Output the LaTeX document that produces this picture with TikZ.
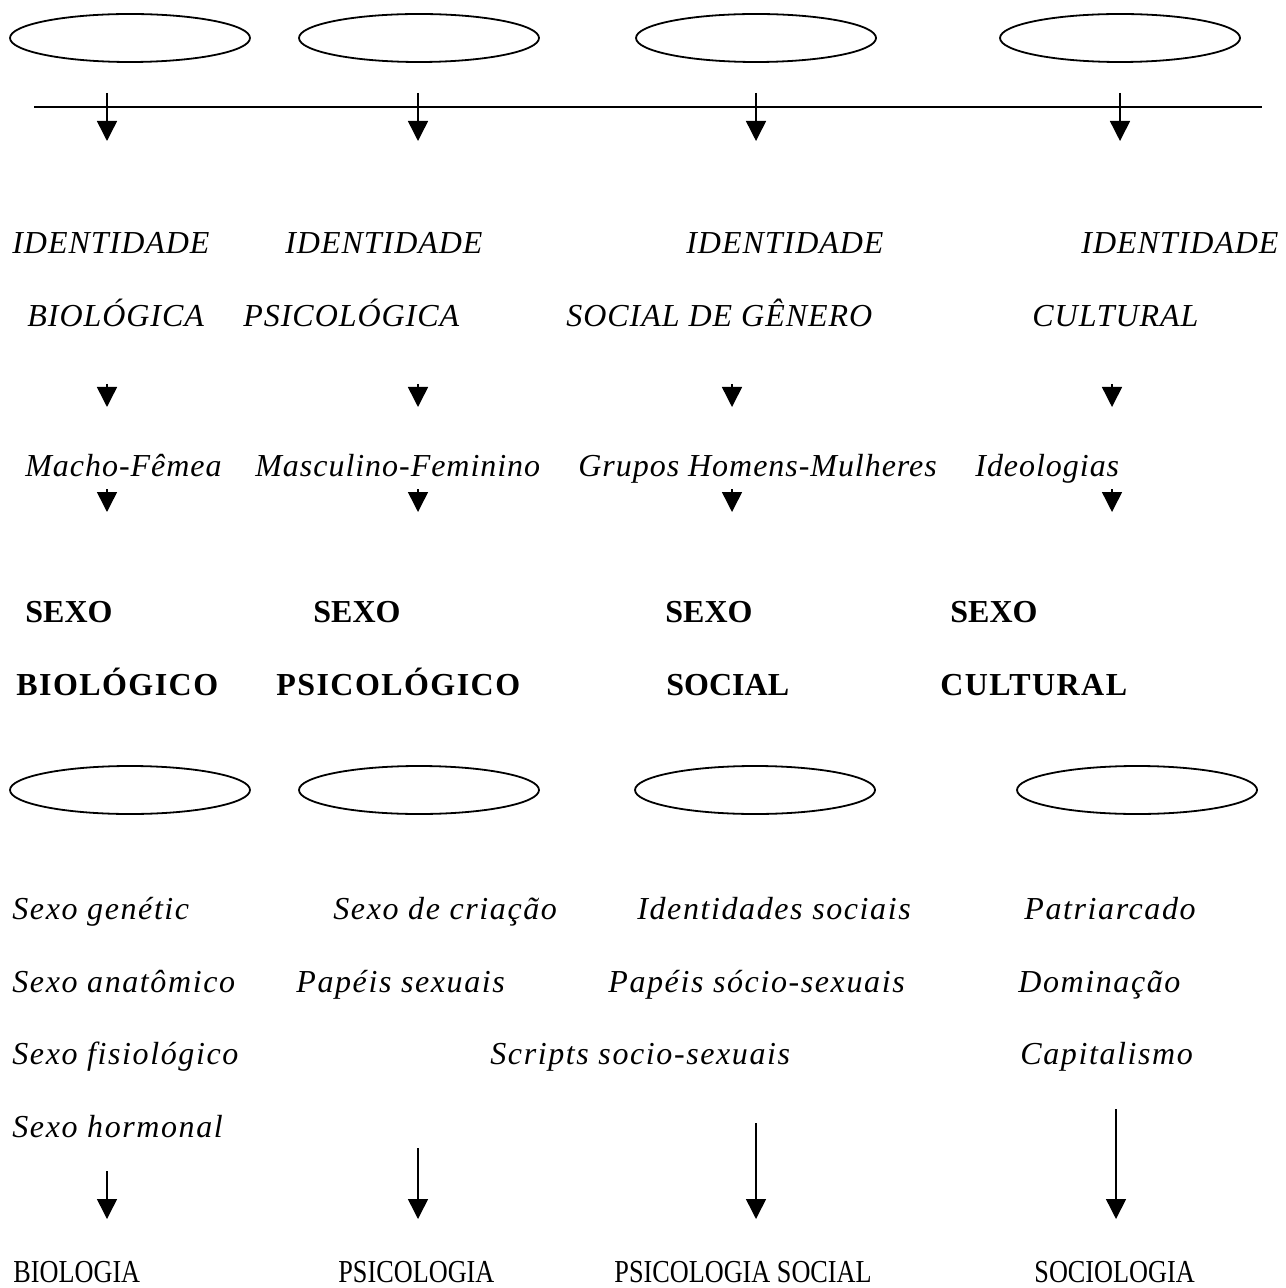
\documentclass[tikz,border=0pt]{standalone}
\usepackage{fontspec}
\setmainfont{Liberation Serif}
\newfontfamily\spacedserif[LetterSpace=3]{Liberation Serif}
\newfontfamily\widerserif[LetterSpace=5]{Liberation Serif}
\newfontfamily\boldspaced[LetterSpace=4.5]{Liberation Serif}
\newfontfamily\narrowserif[FakeStretch=0.82]{Liberation Serif}
\usetikzlibrary{shapes.geometric,arrows.meta}

\tikzset{
  oval/.style={draw, ellipse, line width=0.9pt, minimum width=120pt, minimum height=24pt, inner sep=0pt},
  idtext/.style={anchor=base west, inner sep=0pt, font=\spacedserif\itshape\fontsize{16}{19}\selectfont},
  listtext/.style={anchor=base west, inner sep=0pt, font=\widerserif\itshape\fontsize{16}{19}\selectfont},
  sextext/.style={anchor=base west, inner sep=0pt, font=\bfseries\fontsize{16}{19}\selectfont},
  sexkind/.style={anchor=base west, inner sep=0pt, font=\boldspaced\bfseries\fontsize{16}{19}\selectfont},
  areatext/.style={anchor=base west, inner sep=0pt, font=\narrowserif\fontsize{16}{19}\selectfont},
  bigarrow/.style={line width=0.75pt, -{Triangle[width=10pt,length=10pt]}}
}

\begin{document}
\begin{tikzpicture}[x=0.5pt, y=-0.5pt]
                \useasboundingbox (0,0) rectangle (1285,1288);
                % top ovals and line
                \node[oval] (topA) at (130,38) {};
                \node[oval] (topB) at (419,38) {};
                \node[oval] (topC) at (756,38) {};
                \node[oval] (topD) at (1120,38) {};
                \coordinate (lineL) at (34,107);
                \coordinate (lineR) at (1262,107);
                \draw[line width=0.75pt] (lineL) -- (lineR);
                \coordinate (topA1) at (107,93);  \coordinate (topA2) at (107,141);
                \coordinate (topB1) at (418,93);  \coordinate (topB2) at (418,141);
                \coordinate (topC1) at (756,93);  \coordinate (topC2) at (756,141);
                \coordinate (topD1) at (1120,93); \coordinate (topD2) at (1120,141);
                \draw[bigarrow] (topA1) -- (topA2);
                \draw[bigarrow] (topB1) -- (topB2);
                \draw[bigarrow] (topC1) -- (topC2);
                \draw[bigarrow] (topD1) -- (topD2);
                % identidades
                \node[idtext] (idA) at (12,254) {IDENTIDADE};
                \node[idtext] (idB) at (285,254) {IDENTIDADE};
                \node[idtext] (idC) at (686,254) {IDENTIDADE};
                \node[idtext] (idD) at (1081,254) {IDENTIDADE};
                \node[idtext] (idkA) at (27,327) {BIOLÓGICA};
                \node[idtext] (idkB) at (243,327) {PSICOLÓGICA};
                \node[idtext] (idkC) at (566,327) {SOCIAL DE GÊNERO};
                \node[idtext] (idkD) at (1032,327) {CULTURAL};
                \coordinate (midA1) at (107,384);  \coordinate (midA2) at (107,407);
                \coordinate (midB1) at (418,384);  \coordinate (midB2) at (418,407);
                \coordinate (midC1) at (732,384);  \coordinate (midC2) at (732,407);
                \coordinate (midD1) at (1112,384); \coordinate (midD2) at (1112,407);
                \draw[bigarrow] (midA1) -- (midA2);
                \draw[bigarrow] (midB1) -- (midB2);
                \draw[bigarrow] (midC1) -- (midC2);
                \draw[bigarrow] (midD1) -- (midD2);
                \node[idtext] (pairA) at (25,476) {Macho-Fêmea};
                \node[idtext] (pairB) at (255,476) {Masculino-Feminino};
                \node[idtext] (pairC) at (578,476) {Grupos Homens-Mulheres};
                \node[idtext] (pairD) at (975,476) {Ideologias};
                \coordinate (lowA1) at (107,489);  \coordinate (lowA2) at (107,512);
                \coordinate (lowB1) at (418,489);  \coordinate (lowB2) at (418,512);
                \coordinate (lowC1) at (732,489);  \coordinate (lowC2) at (732,512);
                \coordinate (lowD1) at (1112,489); \coordinate (lowD2) at (1112,512);
                \draw[bigarrow] (lowA1) -- (lowA2);
                \draw[bigarrow] (lowB1) -- (lowB2);
                \draw[bigarrow] (lowC1) -- (lowC2);
                \draw[bigarrow] (lowD1) -- (lowD2);
                % sexo
                \node[sextext] (sexA) at (25,622) {SEXO};
                \node[sextext] (sexB) at (313,622) {SEXO};
                \node[sextext] (sexC) at (665,622) {SEXO};
                \node[sextext] (sexD) at (950,622) {SEXO};
                \node[sexkind] (sexkA) at (16,695) {BIOLÓGICO};
                \node[sexkind] (sexkB) at (276,695) {PSICOLÓGICO};
                \node[sextext] (sexkC) at (666,695) {SOCIAL};
                \node[sexkind] (sexkD) at (940,695) {CULTURAL};
                \node[oval] (lowovA) at (130,790) {};
                \node[oval] (lowovB) at (419,790) {};
                \node[oval] (lowovC) at (755,790) {};
                \node[oval] (lowovD) at (1137,790) {};
                % lists
                \node[listtext] (bioA) at (12,919) {Sexo genétic};
                \node[listtext] (bioB) at (12,992) {Sexo anatômico};
                \node[listtext] (bioC) at (12,1064) {Sexo fisiológico};
                \node[listtext] (bioD) at (12,1137) {Sexo hormonal};
                \node[listtext] (psiA) at (333,919) {Sexo de criação};
                \node[listtext] (psiB) at (296,992) {Papéis sexuais};
                \node[listtext] (socA) at (637,919) {Identidades sociais};
                \node[listtext] (socB) at (608,992) {Papéis sócio-sexuais};
                \node[listtext] (socC) at (490,1064) {Scripts socio-sexuais};
                \node[listtext] (cultA) at (1024,919) {Patriarcado};
                \node[listtext] (cultB) at (1018,992) {Dominação};
                \node[listtext] (cultC) at (1020,1064) {Capitalismo};
                \coordinate (botA1) at (107,1171);  \coordinate (botA2) at (107,1219);
                \coordinate (botB1) at (418,1148);  \coordinate (botB2) at (418,1219);
                \coordinate (botC1) at (756,1123);  \coordinate (botC2) at (756,1219);
                \coordinate (botD1) at (1116,1109); \coordinate (botD2) at (1116,1219);
                \draw[bigarrow] (botA1) -- (botA2);
                \draw[bigarrow] (botB1) -- (botB2);
                \draw[bigarrow] (botC1) -- (botC2);
                \draw[bigarrow] (botD1) -- (botD2);
                \node[areatext] (areaA) at (13,1282) {BIOLOGIA};
                \node[areatext] (areaB) at (338,1282) {PSICOLOGIA};
                \node[areatext] (areaC) at (614,1282) {PSICOLOGIA SOCIAL};
                \node[areatext] (areaD) at (1034,1282) {SOCIOLOGIA};
            \end{tikzpicture}
\end{document}
